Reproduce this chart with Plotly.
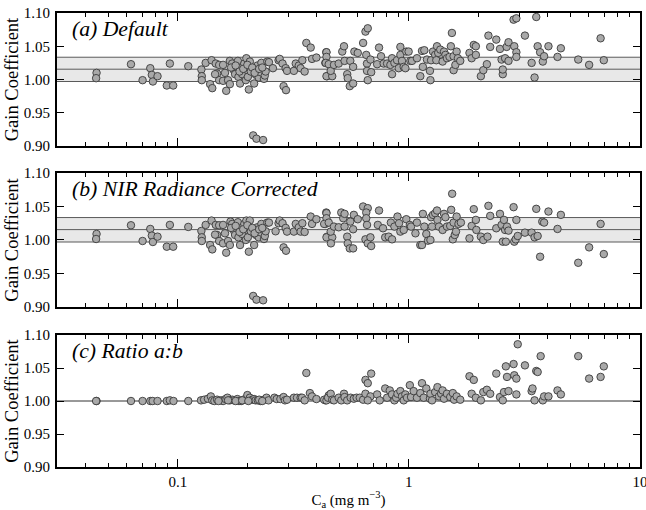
import math
import plotly.graph_objects as go

# ---------------- data ----------------
# Panel (a) Default
a_x_low = [0.0445, 0.0443, 0.0627, 0.0704, 0.076, 0.0772, 0.078, 0.0817, 0.0896, 0.0924, 0.0955, 0.111]
a_y_low = [1.010, 1.002, 1.023, 0.999, 1.017, 1.007, 0.997, 1.005, 0.991, 1.024, 0.991, 1.020]
a_x_mid = [0.1265, 0.127, 0.127, 0.132, 0.138, 0.14, 0.141, 0.146, 0.148, 0.151, 0.151, 0.157, 0.157, 0.162,
           0.165, 0.168, 0.168, 0.172, 0.175, 0.177, 0.181, 0.182, 0.183, 0.186, 0.187, 0.19, 0.194, 0.197,
           0.198, 0.2, 0.201, 0.203, 0.205, 0.207, 0.214, 0.218, 0.221, 0.224, 0.228, 0.23, 0.236, 0.238,
           0.24, 0.244, 0.248, 0.258, 0.273, 0.276, 0.284, 0.287, 0.293, 0.294, 0.297, 0.318, 0.324, 0.334,
           0.34, 0.346, 0.354, 0.36, 0.376, 0.381, 0.398, 0.435, 0.439, 0.443,
           0.17, 0.178, 0.185, 0.192, 0.2, 0.21, 0.215, 0.225, 0.232, 0.16, 0.145]
a_y_mid = [1.015, 1.005, 0.999, 1.025, 0.993, 1.029, 0.987, 1.024, 1.009, 1.022, 0.999, 1.022, 0.998, 0.983,
           0.999, 0.993, 1.028, 1.024, 1.014, 1.008, 1.019, 1.028, 1.004, 0.994, 1.017, 1.008, 1.024, 0.999,
           1.032, 1.014, 1.004, 0.985, 1.027, 1.012, 0.994, 1.007, 1.021, 1.003, 1.011, 1.025, 1.001, 1.006,
           1.012, 1.027, 1.026, 1.017, 1.029, 1.031, 1.024, 0.990, 1.017, 0.984, 1.013, 1.013, 1.024, 1.021,
           1.017, 1.029, 1.012, 1.055, 1.048, 1.031, 1.033, 1.025, 1.041, 1.005,
           1.018, 1.021, 1.012, 1.016, 1.022, 1.018, 1.010, 1.016, 1.018, 1.010, 1.008]
a_x_out = [0.212, 0.219, 0.234]
a_y_out = [0.916, 0.911, 0.909]
a_x_high = [0.44, 0.44, 0.437, 0.45, 0.44, 0.466, 0.459, 0.474, 0.497, 0.515, 0.524, 0.527, 0.541, 0.544,
            0.555, 0.558, 0.574, 0.574, 0.581, 0.601, 0.634, 0.649, 0.664, 0.654, 0.659, 0.659, 0.664, 0.682,
            0.687, 0.729, 0.743, 0.758, 0.778, 0.805, 0.832, 0.846, 0.846, 0.866, 0.889, 0.904, 0.919, 0.919,
            0.934, 0.95, 0.966, 0.975, 0.998, 1.015, 1.032, 1.084, 1.121, 1.14, 1.15, 1.167, 1.198, 1.234,
            1.24, 1.248, 1.272, 1.30, 1.315, 1.324, 1.34, 1.368, 1.40, 1.42, 1.44, 1.462, 1.50, 1.52, 1.536,
            1.562, 1.562, 1.59, 1.61, 1.63, 1.669, 1.83, 1.87, 1.91, 1.95, 1.95, 2.05, 2.10, 2.176, 2.21,
            2.25, 2.39, 2.48, 2.52, 2.55, 2.55, 2.61, 2.65, 2.70, 2.70, 2.84, 2.86, 2.92, 2.92, 2.92, 3.18,
            3.40, 3.50, 3.56, 3.61, 3.70, 3.80, 3.85, 4.02, 4.40, 4.55, 5.41, 6.03, 6.76, 6.98]
a_y_high = [1.041, 1.034, 1.025, 1.023, 1.005, 1.005, 1.013, 1.022, 1.024, 1.042, 1.050, 1.028, 1.008, 1.002,
            0.990, 1.028, 1.019, 0.994, 1.042, 1.040, 1.055, 1.072, 1.077, 1.037, 1.024, 1.013, 0.999, 1.030,
            1.011, 1.023, 1.048, 1.035, 1.024, 1.024, 1.022, 1.032, 1.008, 1.025, 1.029, 1.017, 1.049, 1.037,
            1.028, 1.019, 1.017, 1.042, 1.042, 1.028, 1.028, 1.032, 1.005, 1.043, 1.019, 1.044, 1.030, 1.013,
            0.999, 1.029, 1.042, 1.037, 1.029, 1.050, 1.040, 1.045, 1.027, 1.042, 1.037, 1.032, 1.034, 1.050,
            1.070, 1.035, 1.014, 1.022, 1.042, 1.032, 1.028, 1.040, 1.032, 1.052, 1.050, 1.037, 1.005, 1.014,
            1.023, 1.066, 1.049, 1.060, 1.046, 1.030, 1.008, 1.015, 1.032, 1.049, 1.056, 1.028, 1.090, 1.050,
            1.092, 1.041, 1.034, 1.066, 1.025, 1.003, 1.094, 1.050, 1.041, 1.027, 1.035, 1.050, 1.034, 1.047,
            1.030, 1.022, 1.062, 1.029]

# Panel (b) NIR Radiance Corrected
b_x_low = [0.0445, 0.0443, 0.0627, 0.0704, 0.076, 0.0772, 0.078, 0.0817, 0.0896, 0.0924, 0.0955, 0.111]
b_y_low = [1.009, 1.0015, 1.022, 0.9985, 1.0165, 1.0065, 0.997, 1.005, 0.990, 1.0225, 0.990, 1.0195]
b_x_mid = [0.1265, 0.127, 0.127, 0.132, 0.138, 0.14, 0.141, 0.146, 0.148, 0.151, 0.151, 0.157, 0.157, 0.162,
           0.165, 0.168, 0.169, 0.172, 0.175, 0.177, 0.181, 0.182, 0.183, 0.186, 0.187, 0.19, 0.194, 0.197,
           0.198, 0.2, 0.201, 0.203, 0.205, 0.207, 0.214, 0.218, 0.221, 0.224, 0.228, 0.23, 0.236, 0.238,
           0.24, 0.244, 0.248, 0.265, 0.273, 0.276, 0.284, 0.287, 0.293, 0.294, 0.297, 0.318, 0.324, 0.334,
           0.34, 0.346, 0.354, 0.376, 0.381, 0.398, 0.435, 0.439, 0.443,
           0.17, 0.178, 0.185, 0.192, 0.2, 0.21, 0.215, 0.225, 0.232, 0.16, 0.145]
b_y_mid = [1.0135, 1.004, 0.9985, 1.0225, 0.9925, 1.029, 0.986, 1.0225, 1.0075, 1.022, 0.9985, 1.0225, 0.995,
           0.981, 0.9985, 0.9925, 1.0275, 1.024, 1.014, 1.0075, 1.02, 1.0265, 1.004, 0.9925, 1.0175, 1.009,
           1.024, 1.0, 1.029, 1.015, 1.004, 0.9825, 1.029, 1.013, 0.9925, 1.0075, 1.019, 1.004, 1.0115, 1.024,
           1.0015, 1.006, 1.013, 1.026, 1.026, 1.013, 1.025, 1.029, 1.025, 0.989, 1.018, 0.984, 1.0125, 1.0125,
           1.024, 1.019, 1.0125, 1.025, 1.012, 1.035, 1.024, 1.031, 1.024, 1.041, 1.005,
           1.018, 1.021, 1.012, 1.016, 1.022, 1.018, 1.010, 1.016, 1.018, 1.010, 1.008]
b_x_out = [0.212, 0.219, 0.234]
b_y_out = [0.9165, 0.911, 0.910]
b_x_high = [0.44, 0.44, 0.43, 0.45, 0.44, 0.466, 0.46, 0.459, 0.474, 0.497, 0.51, 0.52, 0.527, 0.527, 0.541,
            0.544, 0.555, 0.574, 0.558, 0.574, 0.578, 0.601, 0.634, 0.664, 0.654, 0.654, 0.659, 0.649, 0.664,
            0.682, 0.687, 0.734, 0.743, 0.773, 0.79, 0.818, 0.836, 0.846, 0.866, 0.893, 0.907, 0.919, 0.95,
            0.975, 1.01, 1.022, 1.068, 1.084, 1.121, 1.14, 1.15, 1.167, 1.19, 1.21, 1.24, 1.248, 1.26, 1.272,
            1.30, 1.324, 1.33, 1.35, 1.40, 1.42, 1.44, 1.462, 1.51, 1.525, 1.54, 1.55, 1.562, 1.58, 1.60, 1.61,
            1.64, 1.68, 1.83, 1.87, 1.91, 1.95, 1.96, 2.05, 2.10, 2.19, 2.21, 2.25, 2.39, 2.48, 2.52, 2.55,
            2.58, 2.61, 2.63, 2.66, 2.70, 2.84, 2.86, 2.90, 2.92, 2.96, 3.18, 3.40, 3.50, 3.56, 3.61, 3.70,
            3.78, 3.85, 4.02, 4.40, 4.55, 5.41, 6.03, 6.76, 6.98]
b_y_high = [1.040, 1.0325, 1.024, 1.026, 1.004, 1.004, 0.995, 1.0125, 1.02, 1.019, 1.041, 1.0325, 1.039, 1.02,
            1.005, 0.995, 0.9875, 0.9875, 1.0275, 1.016, 1.0375, 1.031, 1.05, 1.0475, 1.041, 1.0325, 1.0225,
            1.001, 0.995, 1.004, 0.991, 1.0225, 1.044, 1.0175, 1.004, 1.005, 1.026, 1.001, 1.02, 1.035, 1.025,
            1.0125, 1.015, 1.031, 1.0225, 1.02, 1.01, 1.026, 0.9925, 0.9925, 1.039, 1.02, 1.009, 0.999, 1.0,
            1.034, 1.02, 1.0375, 1.04, 1.044, 1.03, 1.02, 1.015, 1.039, 1.034, 1.02, 1.021, 1.045, 1.069, 1.001,
            1.026, 1.0075, 1.0125, 1.035, 1.024, 1.026, 1.0025, 1.021, 1.046, 1.03, 1.015, 1.005, 1.0, 1.005,
            1.051, 1.036, 1.0175, 1.039, 1.0225, 0.9975, 1.03, 1.015, 0.9975, 1.02, 1.014, 1.049, 0.9975, 1.001,
            1.03, 1.006, 1.011, 1.011, 1.004, 1.0465, 1.006, 0.975, 1.0275, 1.026, 1.0425, 1.0165, 1.0375,
            0.966, 0.989, 1.024, 0.979]

# Panel (c) Ratio a:b
c_x_low = [0.0445, 0.0443, 0.0627, 0.0704, 0.076, 0.0778, 0.0817, 0.0896, 0.0924, 0.0958, 0.111]
c_y_low = [1.0, 1.0, 1.0, 1.0, 1.0, 1.0, 1.0, 1.0, 1.001, 1.0, 1.0]
c_x_mid = [0.126, 0.13, 0.135, 0.139, 0.141, 0.144, 0.148, 0.154, 0.157, 0.161, 0.164, 0.168, 0.172, 0.175,
           0.181, 0.184, 0.188, 0.192, 0.197, 0.2, 0.205, 0.21, 0.214, 0.217, 0.222, 0.228, 0.236, 0.242,
           0.247, 0.262, 0.268, 0.278, 0.287, 0.291, 0.297, 0.318, 0.328, 0.34, 0.345, 0.354, 0.36, 0.373,
           0.381, 0.398, 0.435, 0.45,
           0.15, 0.165, 0.178, 0.19, 0.202, 0.225, 0.232]
c_y_mid = [1.001, 1.002, 1.0035, 1.007, 1.001, 1.0, 1.002, 1.001, 1.0, 1.003, 1.005, 1.001, 1.002, 1.001,
           1.003, 1.0, 1.0, 1.002, 1.003, 1.009, 1.005, 1.002, 1.003, 1.001, 1.001, 1.0, 1.002, 1.005, 1.001,
           1.005, 1.003, 1.003, 1.006, 1.001, 1.002, 1.005, 1.005, 1.005, 1.005, 1.001, 1.0425, 1.012, 1.007,
           1.003, 1.001, 1.0085,
           1.0, 1.001, 1.0, 1.001, 1.0, 1.002, 1.0]
c_x_high = [0.43, 0.44, 0.447, 0.459, 0.466, 0.474, 0.497, 0.51, 0.524, 0.527, 0.541, 0.56, 0.578, 0.594,
            0.613, 0.634, 0.649, 0.649, 0.664, 0.687, 0.682, 0.664, 0.729, 0.748, 0.79, 0.805, 0.827, 0.846,
            0.866, 0.881, 0.893, 0.919, 0.934, 0.95, 0.966, 0.982, 1.01, 1.022, 1.049, 1.084, 1.121, 1.14,
            1.16, 1.19, 1.234, 1.24, 1.26, 1.30, 1.33, 1.35, 1.38, 1.40, 1.42, 1.462, 1.51, 1.55, 1.57, 1.61,
            1.669, 1.83, 1.87, 1.91, 1.95, 2.05, 2.10, 2.176, 2.25, 2.39, 2.48, 2.55, 2.58, 2.63, 2.66, 2.70,
            2.84, 2.86, 2.92, 2.92, 2.96, 3.18, 3.40, 3.43, 3.50, 3.56, 3.61, 3.72, 3.80, 3.85, 4.02, 4.40,
            4.55, 5.41, 6.03, 6.76, 6.98]
c_y_high = [1.002, 1.001, 1.005, 1.011, 1.002, 1.001, 1.005, 1.001, 1.011, 1.006, 1.001, 1.005, 1.0035, 1.005,
            1.005, 1.002, 1.011, 1.032, 1.027, 1.0415, 1.007, 1.001, 1.010, 1.001, 1.019, 1.005, 1.016, 1.010,
            1.001, 1.005, 1.011, 1.015, 1.007, 1.001, 1.010, 1.005, 1.024, 1.006, 1.015, 1.005, 1.012, 1.027,
            1.005, 1.019, 1.0035, 1.011, 1.001, 1.0135, 1.021, 1.007, 1.011, 1.016, 1.0035, 1.011, 1.006,
            1.012, 1.002, 1.007, 1.002, 1.0375, 1.011, 1.032, 1.005, 1.001, 1.0135, 1.017, 1.011, 1.0415,
            1.006, 1.001, 1.0135, 1.0525, 1.0365, 1.015, 1.056, 1.039, 1.034, 1.010, 1.086, 1.054, 1.015,
            1.019, 1.001, 1.0455, 1.044, 1.068, 1.001, 1.007, 1.007, 1.016, 1.010, 1.068, 1.034, 1.0365, 1.0525]

panel_titles = ["(a) Default", "(b) NIR Radiance Corrected", "(c) Ratio a:b"]
band_low, band_mid, band_high = 0.997, 1.0155, 1.0335
ref_line_c = 1.0
y_ticks = [0.90, 0.95, 1.00, 1.05, 1.10]
x_major = [0.1, 1, 10]
x_major_text = ["0.1", "1", "10"]
x_minor = [0.03, 0.04, 0.05, 0.06, 0.07, 0.08, 0.09,
           0.2, 0.3, 0.4, 0.5, 0.6, 0.7, 0.8, 0.9,
           2, 3, 4, 5, 6, 7, 8, 9]


def pair(xs, ys):
    n = min(len(xs), len(ys))
    return list(xs[:n]), list(ys[:n])


ax, ay = pair(a_x_low, a_y_low)
t = pair(a_x_mid, a_y_mid); ax += t[0]; ay += t[1]
t = pair(a_x_out, a_y_out); ax += t[0]; ay += t[1]
t = pair(a_x_high, a_y_high); ax += t[0]; ay += t[1]

bx, by = pair(b_x_low, b_y_low)
t = pair(b_x_mid, b_y_mid); bx += t[0]; by += t[1]
t = pair(b_x_out, b_y_out); bx += t[0]; by += t[1]
t = pair(b_x_high, b_y_high); bx += t[0]; by += t[1]

cx, cy = pair(c_x_low, c_y_low)
t = pair(c_x_mid, c_y_mid); cx += t[0]; cy += t[1]
t = pair(c_x_high, c_y_high); cx += t[0]; cy += t[1]

# ---------------- figure ----------------
FONT = "'Liberation Serif', 'Times New Roman', Times, 'DejaVu Serif', serif"
marker = dict(size=7.5, color="#a9a9a9", line=dict(color="#3a3a3a", width=0.9))

fig = go.Figure()
for i, (xs, ys) in enumerate([(ax, ay), (bx, by), (cx, cy)]):
    sfx = "" if i == 0 else str(i + 1)
    fig.add_trace(go.Scatter(x=xs, y=ys, mode="markers", marker=marker,
                             xaxis="x" + sfx, yaxis="y" + sfx, showlegend=False,
                             hoverinfo="x+y"))

domains = [[0.7070, 1.0], [0.3524, 0.6476], [0.0, 0.2907]]
xrange = [math.log10(0.03), 1.0005]

layout = dict(
    width=646, height=510,
    margin=dict(l=57, r=6, t=13, b=43, autoexpand=False),
    paper_bgcolor="white", plot_bgcolor="white",
    font=dict(family=FONT, size=15, color="black"),
    showlegend=False,
)

for i in range(3):
    sfx = "" if i == 0 else str(i + 1)
    xa = dict(
        type="log", range=xrange, anchor="y" + sfx,
        tickmode="array", tickvals=x_major, ticktext=x_major_text,
        ticks="inside", ticklen=8, tickwidth=1, tickcolor="black",
        minor=dict(tickmode="array", tickvals=x_minor, ticks="inside", ticklen=4,
                   tickwidth=1, tickcolor="black", showgrid=False),
        showline=True, linewidth=2, linecolor="black", mirror="ticks",
        showgrid=False, zeroline=False, automargin=False, ticklabeloverflow="allow",
        showticklabels=(i == 2), tickfont=dict(family=FONT, size=15),
    )
    if i == 2:
        xa["title"] = dict(text="C<sub>a</sub> (mg m<sup>−3</sup>)",
                           font=dict(family=FONT, size=15), standoff=5)
    if i > 0:
        xa["matches"] = "x"
    ya = dict(
        domain=domains[i], range=[0.9, 1.1], anchor="x" + sfx,
        tickmode="array", tickvals=y_ticks, tickformat=".2f",
        ticks="inside", ticklen=7, tickwidth=1, tickcolor="black",
        showline=True, linewidth=2, linecolor="black", mirror="ticks",
        showgrid=False, zeroline=False, automargin=False, ticklabelstandoff=2,
        tickfont=dict(family=FONT, size=15),
        title=dict(text="Gain Coefficient", font=dict(family=FONT, size=18.5), standoff=0),
    )
    layout["xaxis" + sfx] = xa
    layout["yaxis" + sfx] = ya

shapes = []
for i in range(2):
    sfx = "" if i == 0 else str(i + 1)
    shapes.append(dict(type="rect", xref="x" + sfx + " domain", yref="y" + sfx,
                       x0=0, x1=1, y0=band_low, y1=band_high,
                       fillcolor="#e8e8e8", line=dict(width=0), layer="below"))
    for yv in (band_low, band_mid, band_high):
        shapes.append(dict(type="line", xref="x" + sfx + " domain", yref="y" + sfx,
                           x0=0, x1=1, y0=yv, y1=yv,
                           line=dict(color="#5a5a5a", width=1), layer="below"))
shapes.append(dict(type="line", xref="x3 domain", yref="y3", x0=0, x1=1,
                   y0=ref_line_c, y1=ref_line_c, line=dict(color="#333333", width=1), layer="below"))
layout["shapes"] = shapes

annotations = []
for i, title in enumerate(panel_titles):
    sfx = "" if i == 0 else str(i + 1)
    annotations.append(dict(text="<i>" + title + "</i>", xref="x" + sfx + " domain",
                            yref="y" + sfx + " domain", x=0.022, y=0.985,
                            xanchor="left", yanchor="top", showarrow=False,
                            font=dict(size=21.7, family=FONT)))
layout["annotations"] = annotations

fig.update_layout(**layout)
# remove the browser's default 8px page margin so the figure sits at the window origin
fig.write_html("out.html", config={"displayModeBar": False},
               post_script="document.body.style.margin='0';document.body.style.overflow='hidden';")
